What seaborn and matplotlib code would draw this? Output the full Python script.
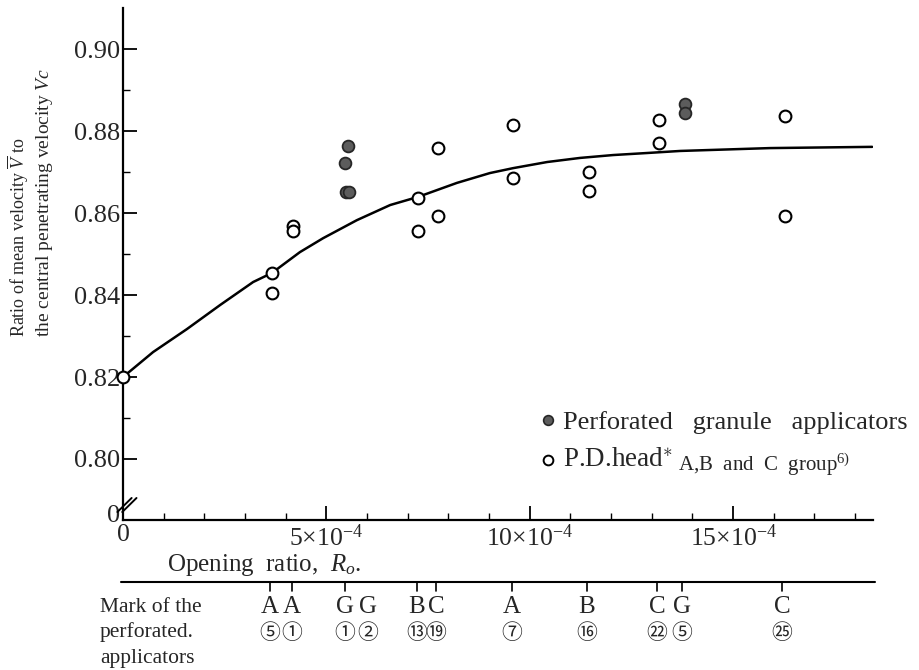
import matplotlib
matplotlib.use("Agg")
import matplotlib.pyplot as plt
import matplotlib.transforms as mtransforms
from matplotlib.ticker import MultipleLocator
import pandas as pd
import seaborn as sns

# ---------------- data (opening ratio in units of 1e-4) ----------------
open_x = [0.0, 3.66, 3.66, 4.18, 4.18, 7.26, 7.26, 7.75, 7.75, 9.59, 9.59,
          11.46, 11.46, 13.18, 13.18, 16.28, 16.28]
open_v = [0.8200, 0.8454, 0.8405, 0.8569, 0.8556, 0.8637, 0.8556, 0.8759, 0.8593,
          0.8815, 0.8686, 0.8700, 0.8654, 0.8827, 0.8771, 0.8837, 0.8593]
filled_x = [5.53, 5.46, 5.48, 5.56, 13.82, 13.82]
filled_v = [0.8764, 0.8722, 0.8651, 0.8651, 0.8866, 0.8844]

curve_x = [0.0, 0.74, 1.57, 2.39, 3.20, 3.66, 4.35, 4.92, 5.75, 6.57, 7.26, 8.21,
           9.02, 9.59, 10.43, 11.24, 12.05, 12.89, 13.70, 15.91, 18.42]
curve_v = [0.8200, 0.8261, 0.8317, 0.8376, 0.8432, 0.8454, 0.8505, 0.8539, 0.8583,
           0.8620, 0.8640, 0.8674, 0.8698, 0.8710, 0.8725, 0.8735, 0.8742, 0.8747,
           0.8752, 0.8759, 0.8762]

y_ticks = [0.80, 0.82, 0.84, 0.86, 0.88, 0.90]
y_tick_labels = ["0.80", "0.82", "0.84", "0.86", "0.88", "0.90"]
y_minor = [0.81, 0.83, 0.85, 0.87, 0.89]
x_ticks = [0, 5, 10, 15]
x_tick_labels = ["0", r"$5{\times}10^{-4}$", r"$10{\times}10^{-4}$", r"$15{\times}10^{-4}$"]

mark_x = [3.62, 4.16, 5.45, 6.02, 7.23, 7.70, 9.56, 11.41, 13.13, 13.74, 16.20]
mark_letters = ["A", "A", "G", "G", "B", "C", "A", "B", "C", "G", "C"]
mark_numbers = ["⑤", "①", "①", "②", "⑬", "⑲", "⑦", "⑯", "㉒", "⑤", "㉕"]
mark_has_tick = [True, True, True, False, True, True, True, True, True, True, True]

legend_labels = ["Perforated   granule   applicators", r"P.D.head$^{\ast}$",
                 r" A,B  and  C  group$^{6)}$"]

# ---------------- style ----------------
sns.set_theme(style="ticks")
plt.rcParams['font.family'] = ['Liberation Serif', 'DejaVu Serif']
plt.rcParams['mathtext.fontset'] = 'custom'
plt.rcParams['mathtext.rm'] = 'Liberation Serif'
plt.rcParams['mathtext.it'] = 'Liberation Serif:italic'
plt.rcParams['mathtext.bf'] = 'Liberation Serif:bold'

fig = plt.figure(figsize=(9.19, 6.70), dpi=100)
ax = fig.add_axes([123 / 919, 1 - 520 / 670, 750 / 919, 512 / 670])

sns.lineplot(x=curve_x, y=curve_v, ax=ax, color='black', lw=1.8, sort=False)
sns.scatterplot(x=open_x, y=open_v, ax=ax, marker='o', s=72, facecolor='white',
                edgecolor='black', linewidth=1.5, zorder=4, clip_on=False)
sns.scatterplot(x=filled_x, y=filled_v, ax=ax, marker='o', s=72, color='#5c5c5c',
                edgecolor='#262626', linewidth=1.3, zorder=4)

ax.set_xlim(0, 18.44)
ax.set_ylim(0.7851, 0.9101)

ax.set_yticks([0.7868] + y_ticks, labels=["0"] + y_tick_labels)
ax.yaxis.get_major_ticks()[0].tick1line.set_visible(False)
ax.set_yticks(y_minor, minor=True)
ax.set_xticks(x_ticks, labels=x_tick_labels)
ax.xaxis.set_minor_locator(MultipleLocator(1))

ax.tick_params(axis='both', which='major', direction='in', length=10, width=1.3, color='black')
ax.tick_params(axis='both', which='minor', direction='in', length=5, width=1.0, color='black')
ax.tick_params(axis='y', which='major', labelsize=19, pad=2)
ax.tick_params(axis='x', which='major', labelsize=18.5, pad=3)

for s in ['top', 'right']:
    ax.spines[s].set_visible(False)
for s in ['left', 'bottom']:
    ax.spines[s].set_color('black')
    ax.spines[s].set_linewidth(1.6)

# axis break marks on the y axis
for dx in (0.0, 0.0065):
    ax.plot([-0.0075 + dx, 0.0115 + dx], [0.0156, 0.0430], transform=ax.transAxes,
            color='black', lw=1.4, clip_on=False)

ax.set_xlabel(r"Opening  ratio,  $R_o$.", fontsize=18)
ax.xaxis.set_label_coords((264 - 123) / 750, (520 - 565) / 512)
ax.xaxis.label.set_va('center')

# y label (two lines, bottom aligned)
fig.text(18 / 919, 1 - 337 / 670, r"Ratio of mean velocity $\overline{V}$ to",
         rotation=90, ha='center', va='bottom', fontsize=13)
fig.text(45 / 919, 1 - 337 / 670, r"the central penetrating velocity $Vc$",
         rotation=90, ha='center', va='bottom', fontsize=14)

# mark axis below
trans = mtransforms.blended_transform_factory(ax.transData, ax.transAxes)
y_line = -(582 - 520) / 512
ax.plot([-0.0027, 1.0027], [y_line, y_line], transform=ax.transAxes, color='black',
        lw=1.5, clip_on=False)
for mx, lt, nm, tk in zip(mark_x, mark_letters, mark_numbers, mark_has_tick):
    if tk:
        ax.plot([mx, mx], [y_line, y_line - 9 / 512], transform=trans, color='black',
                lw=1.2, clip_on=False)
    ax.text(mx, -(607 - 520) / 512, lt, transform=trans, ha='center', va='center',
            fontsize=18)
    ax.text(mx, -(633 - 520) / 512, nm, transform=trans, ha='center', va='center',
            fontsize=15, family=['Noto Sans CJK JP', 'DejaVu Sans'])

for i, line in enumerate(["Mark of the", "perforated.", "applicators"]):
    fig.text(100 / 919, 1 - (607 + 25.5 * i) / 670, line, ha='left', va='center',
             fontsize=15.5)

# legend (manual)
ax.plot([(548 - 123) / 750], [(520 - 420) / 512], transform=ax.transAxes, marker='o',
        ms=7, mfc='#5c5c5c', mec='#262626', mew=1.2, ls='none', clip_on=False)
ax.plot([(548 - 123) / 750], [(520 - 460) / 512], transform=ax.transAxes, marker='o',
        ms=7, mfc='white', mec='black', mew=1.4, ls='none', clip_on=False)
ax.text((563 - 123) / 750, (520 - 423) / 512, legend_labels[0], transform=ax.transAxes,
        ha='left', va='center', fontsize=19)
t1 = ax.text((563 - 123) / 750, (520 - 460) / 512, legend_labels[1], transform=ax.transAxes,
             ha='left', va='center', fontsize=19.5)
ax.annotate(legend_labels[2], xy=(1, 0.08), xycoords=t1, ha='left', va='baseline',
            fontsize=15)

fig.savefig("out.png", dpi=100)
